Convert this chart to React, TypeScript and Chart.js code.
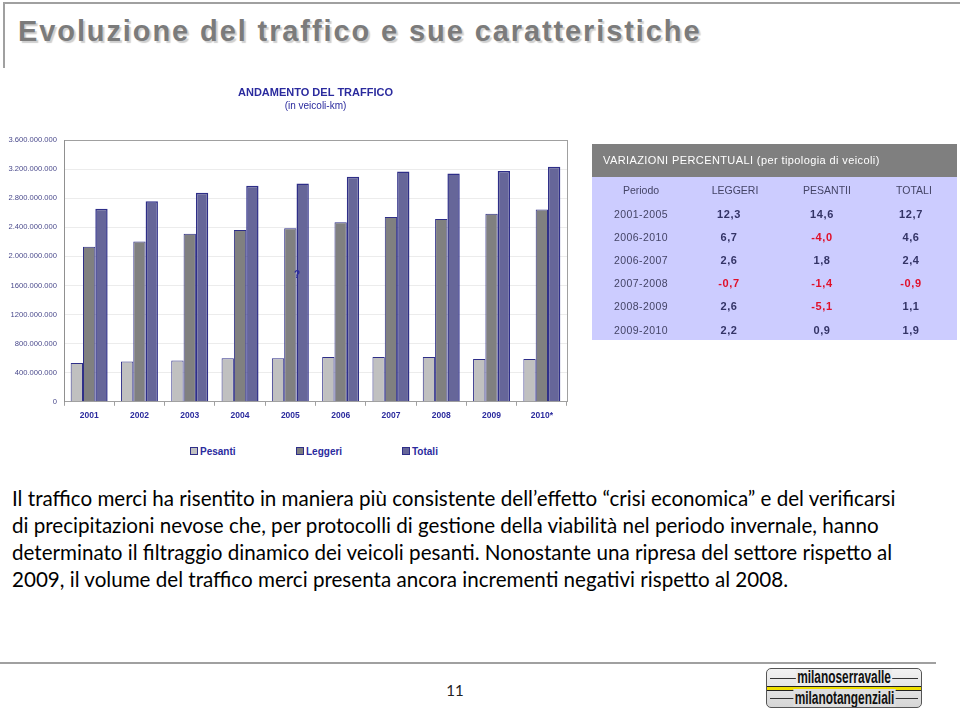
import React, { useEffect, useRef } from "react";
import { Chart, registerables } from "chart.js";

Chart.register(...registerables);

// ---- chart data (values in millions of vehicle-km) ----
const years = ["2001", "2002", "2003", "2004", "2005", "2006", "2007", "2008", "2009", "2010*"];
const pesanti = [532, 555, 568, 599, 599, 617, 617, 617, 590, 590];
const leggeri = [2133, 2205, 2312, 2361, 2388, 2469, 2540, 2513, 2585, 2643];
const totali = [2656, 2759, 2876, 2970, 3001, 3095, 3166, 3140, 3175, 3233];
const yTickLabels = [
  "0",
  "400.000.000",
  "800.000.000",
  "1200.000.000",
  "1600.000.000",
  "2.000.000.000",
  "2.400.000.000",
  "2.800.000.000",
  "3.200.000.000",
  "3.600.000.000",
];
const seriesNames = ["Pesanti", "Leggeri", "Totali"];
const seriesColors = ["#c0c0c0", "#808080", "#666699"];

// ---- table data ----
const tableHeaders = ["Periodo", "LEGGERI", "PESANTII", "TOTALI"];
const tablePeriods = ["2001-2005", "2006-2010", "2006-2007", "2007-2008", "2008-2009", "2009-2010"];
const tableLeggeri = ["12,3", "6,7", "2,6", "-0,7", "2,6", "2,2"];
const tablePesanti = ["14,6", "-4,0", "1,8", "-1,4", "-5,1", "0,9"];
const tableTotali = ["12,7", "4,6", "2,4", "-0,9", "1,1", "1,9"];

const paragraphLines = [
  "Il traffico merci ha risentito in maniera più consistente dell’effetto “crisi economica” e del verificarsi",
  "di precipitazioni nevose che, per protocolli di gestione della viabilità nel periodo invernale, hanno",
  "determinato il filtraggio dinamico dei veicoli pesanti. Nonostante una ripresa del settore rispetto al",
  "2009, il volume del traffico merci presenta ancora incrementi negativi rispetto al 2008.",
];

const BLUE = "#2b2b9e";
const NAVY = "#2e2e88";

function BarChart() {
  const ref = useRef<HTMLCanvasElement | null>(null);
  useEffect(() => {
    if (!ref.current) return;
    const seriesData = [pesanti, leggeri, totali];
    const chart = new Chart(ref.current, {
      type: "bar",
      data: {
        labels: years,
        datasets: seriesNames.map((name, i) => ({
          label: name,
          data: seriesData[i],
          backgroundColor: seriesColors[i],
          borderColor: NAVY,
          borderWidth: i === 2 ? 1.5 : 1,
          categoryPercentage: 0.735,
          barPercentage: 1.0,
          yAxisID: "y",
          xAxisID: "x",
        })),
      },
      options: {
        animation: false,
        responsive: false,
        maintainAspectRatio: false,
        events: [],
        layout: { padding: { left: 2, right: 1, top: 0, bottom: 0 } },
        plugins: {
          legend: { display: false },
          tooltip: { enabled: false },
          title: {
            display: true,
            text: "ANDAMENTO DEL TRAFFICO",
            color: BLUE,
            font: { family: "Liberation Sans", size: 11, weight: "bold" },
            padding: { top: 6, bottom: 1 },
          },
          subtitle: {
            display: true,
            text: "(in veicoli-km)",
            color: BLUE,
            font: { family: "Liberation Sans", size: 10 },
            padding: { top: 0, bottom: 27.8 },
          },
        },
        scales: {
          x: {
            type: "category",
            position: "bottom",
            grid: {
              display: true,
              drawOnChartArea: false,
              drawTicks: true,
              tickLength: 4,
              color: "#a0a0a0",
              offset: true,
            },
            border: { display: true, color: "#a0a0a0", width: 1 },
            ticks: {
              color: BLUE,
              padding: 5,
              font: { family: "Liberation Sans", size: 8.5, weight: "bold" },
            },
          },
          x2: {
            type: "linear",
            position: "top",
            min: 0,
            max: 1,
            grid: { drawOnChartArea: false, drawTicks: false },
            ticks: { display: false },
            border: { display: true, color: "#a0a0a0", width: 1 },
          },
          y: {
            type: "linear",
            position: "left",
            min: 0,
            max: 3600,
            ticks: {
              stepSize: 400,
              padding: 7,
              color: "#4a4a8c",
              font: { family: "Liberation Sans", size: 7.6 },
              callback: (_v: any, i: number) => yTickLabels[i],
            },
            grid: { color: "#ececec", drawTicks: false },
            border: { display: true, color: "#909090", width: 1 },
            afterFit: (s: any) => {
              s.width = 62;
            },
          },
          y2: {
            type: "linear",
            position: "right",
            min: 0,
            max: 3600,
            grid: { drawOnChartArea: false, drawTicks: false },
            ticks: { display: false },
            border: { display: true, color: "#a0a0a0", width: 1 },
            afterFit: (s: any) => {
              s.width = 62;
            },
          },
        },
      },
    } as any);
    return () => chart.destroy();
  }, []);
  return (
    <canvas
      ref={ref}
      width={630}
      height={346}
      style={{ position: "absolute", left: 0, top: 80, width: 630, height: 346 }}
    />
  );
}

function Legend() {
  const xs = [190, 296, 402];
  return (
    <>
      {seriesNames.map((n, i) => (
        <div
          key={n}
          style={{
            position: "absolute",
            left: xs[i],
            top: 445,
            height: 12,
            display: "flex",
            alignItems: "center",
            fontFamily: "Liberation Sans",
            fontWeight: "bold",
            fontSize: 10,
            color: BLUE,
            whiteSpace: "nowrap",
          }}
        >
          <span
            style={{
              display: "inline-block",
              width: 6,
              height: 6,
              background: seriesColors[i],
              border: `1px solid ${NAVY}`,
              marginRight: 2,
            }}
          />
          {n}
        </div>
      ))}
    </>
  );
}

function Table() {
  const colCenters = [49, 143, 235, 322];
  const rowTops = [38, 61, 84, 107, 130, 154];
  const cell = (text: string, cx: number, top: number, style: any, key: string) => (
    <div
      key={key}
      style={{
        position: "absolute",
        left: cx - 50,
        width: 100,
        top,
        textAlign: "center",
        lineHeight: "16px",
        ...style,
      }}
    >
      {text}
    </div>
  );
  const valStyle = (v: string) => ({
    fontFamily: "Liberation Sans",
    fontWeight: "bold",
    fontSize: 11,
    letterSpacing: 0.6,
    color: v.startsWith("-") ? "#e0102a" : "#333366",
  });
  return (
    <div
      style={{
        position: "absolute",
        left: 592,
        top: 144,
        width: 365,
        height: 196,
        background: "#ccccff",
      }}
    >
      <div
        style={{
          position: "absolute",
          left: 0,
          top: 0,
          width: 365,
          height: 33,
          background: "#7f7f7f",
          color: "#ffffff",
          fontFamily: "Liberation Sans",
          fontSize: 11,
          letterSpacing: 0.4,
          lineHeight: "33px",
          paddingLeft: 11,
          boxSizing: "border-box",
          whiteSpace: "nowrap",
        }}
      >
        VARIAZIONI PERCENTUALI (per tipologia di veicoli)
      </div>
      {tableHeaders.map((h, j) =>
        cell(h, colCenters[j], 38, { fontFamily: "Liberation Sans", fontSize: 10.5, color: "#444466" }, "h" + j)
      )}
      {tablePeriods.map((p, r) => (
        <React.Fragment key={p}>
          {cell(p, colCenters[0], rowTops[r] + 24, { fontFamily: "Liberation Sans", fontSize: 10.5, letterSpacing: 0.4, color: "#444466" }, "p" + r)}
          {cell(tableLeggeri[r], colCenters[1] - 6, rowTops[r] + 24, valStyle(tableLeggeri[r]), "l" + r)}
          {cell(tablePesanti[r], colCenters[2] - 5, rowTops[r] + 24, valStyle(tablePesanti[r]), "s" + r)}
          {cell(tableTotali[r], colCenters[3] - 3, rowTops[r] + 24, valStyle(tableTotali[r]), "t" + r)}
        </React.Fragment>
      ))}
    </div>
  );
}

function Logo() {
  const textStyle: any = {
    position: "absolute",
    left: 0,
    width: "100%",
    textAlign: "center",
    fontFamily: "'Liberation Sans', sans-serif",
    fontWeight: "bold",
    fontSize: 18,
    color: "#111",
    lineHeight: "18px",
  };
  const inner: any = {
    display: "inline-block",
    padding: "0 2px",
    transform: "scaleX(0.66)",
    transformOrigin: "center",
  };
  return (
    <div
      style={{
        position: "absolute",
        left: 766,
        top: 668,
        width: 154,
        height: 38,
        border: "1px solid #555",
        borderRadius: 5,
        background: "linear-gradient(#f2f2f2, #d6d6d6)",
        overflow: "hidden",
      }}
    >
      <div style={{ position: "absolute", left: 3, right: 3, top: 9, height: 1, background: "#333" }} />
      <div style={{ position: "absolute", left: 3, right: 3, top: 29, height: 1, background: "#333" }} />
      <div style={{ position: "absolute", left: 0, right: 0, top: 17, height: 3, background: "#f0e000", borderTop: "1px solid #222", borderBottom: "1px solid #222" }} />
      <div style={{ ...textStyle, top: -1 }}>
        <span style={{ ...inner, background: "#ececec" }}>milanoserravalle</span>
      </div>
      <div style={{ ...textStyle, top: 20 }}>
        <span style={{ ...inner, background: "#dedede" }}>milanotangenziali</span>
      </div>
    </div>
  );
}

export default function App() {
  return (
    <div
      style={{
        position: "fixed",
        left: 0,
        top: 0,
        width: 960,
        height: 710,
        background: "#ffffff",
        overflow: "hidden",
      }}
    >
      {/* frame */}
      <div style={{ position: "absolute", left: 3, top: 2, width: 957, height: 2, background: "#a0a0a0" }} />
      <div style={{ position: "absolute", left: 3, top: 2, width: 2, height: 66, background: "#a0a0a0" }} />
      {/* slide title */}
      <div
        style={{
          position: "absolute",
          left: 18,
          top: 13,
          fontFamily: "'Liberation Sans', Arial, sans-serif",
          fontWeight: "bold",
          fontSize: 29,
          letterSpacing: 1.9,
          lineHeight: "36px",
          color: "#7b7b7b",
          textShadow: "2px 2px 1px #cfcfcf",
          whiteSpace: "nowrap",
        }}
      >
        Evoluzione del traffico e sue caratteristiche
      </div>

      <BarChart />
      <div
        style={{
          position: "absolute",
          left: 294,
          top: 269,
          fontFamily: "Liberation Sans",
          fontWeight: "bold",
          fontSize: 10,
          color: BLUE,
        }}
      >
        ?
      </div>
      <Table />
      <Legend />

      {/* paragraph */}
      <div
        style={{
          position: "absolute",
          left: 12,
          top: 485,
          fontFamily: "Lato, 'Open Sans', sans-serif",
          fontSize: 20.6,
          lineHeight: "27px",
          color: "#000",
          whiteSpace: "nowrap",
        }}
      >
        {paragraphLines.map((l, i) => (
          <div key={i}>{l}</div>
        ))}
      </div>

      {/* footer */}
      <div style={{ position: "absolute", left: 0, top: 662, width: 936, height: 2, background: "#a0a0a0" }} />
      <div
        style={{
          position: "absolute",
          left: 430,
          width: 50,
          top: 680,
          textAlign: "center",
          fontFamily: "Lato, sans-serif",
          fontSize: 15,
          lineHeight: "20px",
          color: "#222",
        }}
      >
        11
      </div>
      <Logo />
    </div>
  );
}
